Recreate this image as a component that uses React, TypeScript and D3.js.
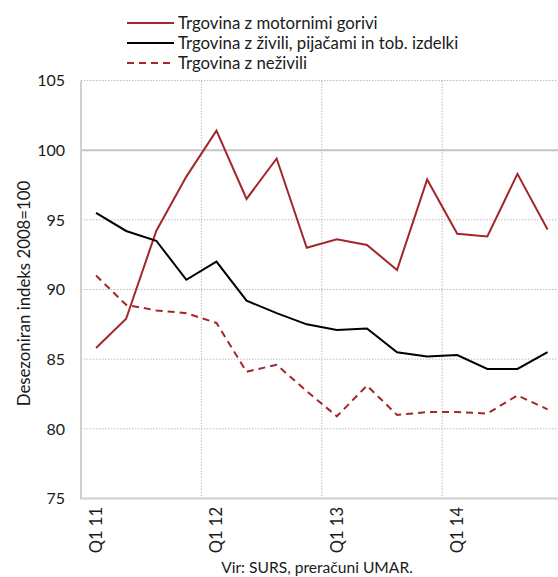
import React, { useEffect, useRef } from 'react';
import * as d3 from 'd3';

const quarters = [
  'Q1 11', 'Q2 11', 'Q3 11', 'Q4 11',
  'Q1 12', 'Q2 12', 'Q3 12', 'Q4 12',
  'Q1 13', 'Q2 13', 'Q3 13', 'Q4 13',
  'Q1 14', 'Q2 14', 'Q3 14', 'Q4 14',
];

const motorFuels = [85.8, 87.9, 94.2, 98.1, 101.4, 96.5, 99.4, 93.0, 93.6, 93.2, 91.4, 97.9, 94.0, 93.8, 98.3, 94.3];
const food = [95.5, 94.2, 93.5, 90.7, 92.0, 89.2, 88.3, 87.5, 87.1, 87.2, 85.5, 85.2, 85.3, 84.3, 84.3, 85.5];
const nonFood = [91.0, 88.9, 88.5, 88.3, 87.6, 84.1, 84.6, 82.7, 80.9, 83.1, 81.0, 81.2, 81.2, 81.1, 82.4, 81.4];

const yTicks = [75, 80, 85, 90, 95, 100, 105];
const xLabels = ['Q1 11', 'Q1 12', 'Q1 13', 'Q1 14'];

const series = [
  { name: 'Trgovina z motornimi gorivi', values: motorFuels, color: '#A3262A', dash: null },
  { name: 'Trgovina z živili, pijačami in tob. izdelki', values: food, color: '#000000', dash: null },
  { name: 'Trgovina z neživili', values: nonFood, color: '#A3262A', dash: '7,5' },
];

const FONT = 'Lato, sans-serif';

export default function App() {
  const svgRef = useRef<SVGSVGElement>(null);

  useEffect(() => {
    if (!svgRef.current) return;
    const W = 558;
    const left = 81, top = 80.5, bottom = 498.5;
    const step = 30.1;

    const svg = d3.select(svgRef.current);
    svg.selectAll('*').remove();

    const x = d3.scaleBand<string>()
      .domain(quarters)
      .range([left, left + step * quarters.length])
      .padding(0);

    const y = d3.scaleLinear().domain([75, 105]).range([bottom, top]);

    // horizontal grid
    svg.append('g')
      .selectAll('line')
      .data(yTicks.filter(t => t !== 75))
      .join('line')
      .attr('x1', left).attr('x2', W)
      .attr('y1', d => y(d)).attr('y2', d => y(d))
      .attr('stroke', d => d === 100 ? '#c4c4c4' : '#bdbdbd')
      .attr('stroke-width', d => d === 100 ? 2 : 1)
      .attr('stroke-dasharray', d => d === 100 ? null : '1.5,1.5');

    // vertical grid at year boundaries
    svg.append('g')
      .selectAll('line')
      .data(xLabels.slice(1))
      .join('line')
      .attr('x1', d => (x(d) as number)).attr('x2', d => (x(d) as number))
      .attr('y1', top).attr('y2', bottom)
      .attr('stroke', '#bdbdbd')
      .attr('stroke-width', 1)
      .attr('stroke-dasharray', '1.5,1.5');

    // axes lines
    svg.append('line')
      .attr('x1', left).attr('x2', left).attr('y1', top).attr('y2', bottom + 1)
      .attr('stroke', '#d0d0d0').attr('stroke-width', 2);
    svg.append('line')
      .attr('x1', left).attr('x2', W).attr('y1', bottom).attr('y2', bottom)
      .attr('stroke', '#d0d0d0').attr('stroke-width', 2);

    // y tick labels
    svg.append('g')
      .selectAll('text')
      .data(yTicks)
      .join('text')
      .attr('x', 65)
      .attr('y', d => y(d))
      .attr('dy', '0.36em')
      .attr('text-anchor', 'end')
      .attr('font-family', FONT)
      .attr('font-size', 16)
      .attr('fill', '#1a1a1a')
      .text(d => d);

    // x tick labels (rotated)
    svg.append('g')
      .selectAll('text')
      .data(xLabels)
      .join('text')
      .attr('transform', d => `translate(${(x(d) as number) + x.bandwidth() / 2},507) rotate(-90)`)
      .attr('dy', '0.36em')
      .attr('text-anchor', 'end')
      .attr('font-family', FONT)
      .attr('font-size', 16.5)
      .attr('fill', '#1a1a1a')
      .text(d => d);

    // y axis title
    svg.append('text')
      .attr('transform', `translate(24,${(top + bottom) / 2 + 4}) rotate(-90)`)
      .attr('dy', '0.36em')
      .attr('text-anchor', 'middle')
      .attr('font-family', FONT)
      .attr('font-size', 16.8)
      .attr('fill', '#1a1a1a')
      .text('Desezoniran indeks 2008=100');

    // source
    svg.append('text')
      .attr('x', 317)
      .attr('y', 567)
      .attr('dy', '0.36em')
      .attr('text-anchor', 'middle')
      .attr('font-family', FONT)
      .attr('font-size', 15.6)
      .attr('fill', '#1a1a1a')
      .text('Vir: SURS, preračuni UMAR.');

    // lines
    const line = d3.line<number>()
      .x((_, i) => (x(quarters[i]) as number) + x.bandwidth() / 2)
      .y(d => y(d));

    series.forEach(s => {
      svg.append('path')
        .datum(s.values)
        .attr('fill', 'none')
        .attr('stroke', s.color)
        .attr('stroke-width', 2)
        .attr('stroke-dasharray', s.dash)
        .attr('stroke-linejoin', 'miter')
        .attr('d', line);
    });

    // legend
    const legend = svg.append('g');
    series.forEach((s, i) => {
      const ly = 23 + i * 20;
      legend.append('line')
        .attr('x1', 127).attr('x2', 174)
        .attr('y1', ly).attr('y2', ly)
        .attr('stroke', s.color)
        .attr('stroke-width', 2)
        .attr('stroke-dasharray', s.dash);
      legend.append('text')
        .attr('x', 178)
        .attr('y', ly)
        .attr('dy', '0.36em')
        .attr('font-family', FONT)
        .attr('font-size', 16.8)
        .attr('fill', '#1a1a1a')
        .text(s.name);
    });
  }, []);

  return (
    <svg
      ref={svgRef}
      width={558}
      height={577}
      style={{ position: 'absolute', left: 0, top: 0, background: '#fff' }}
    />
  );
}
